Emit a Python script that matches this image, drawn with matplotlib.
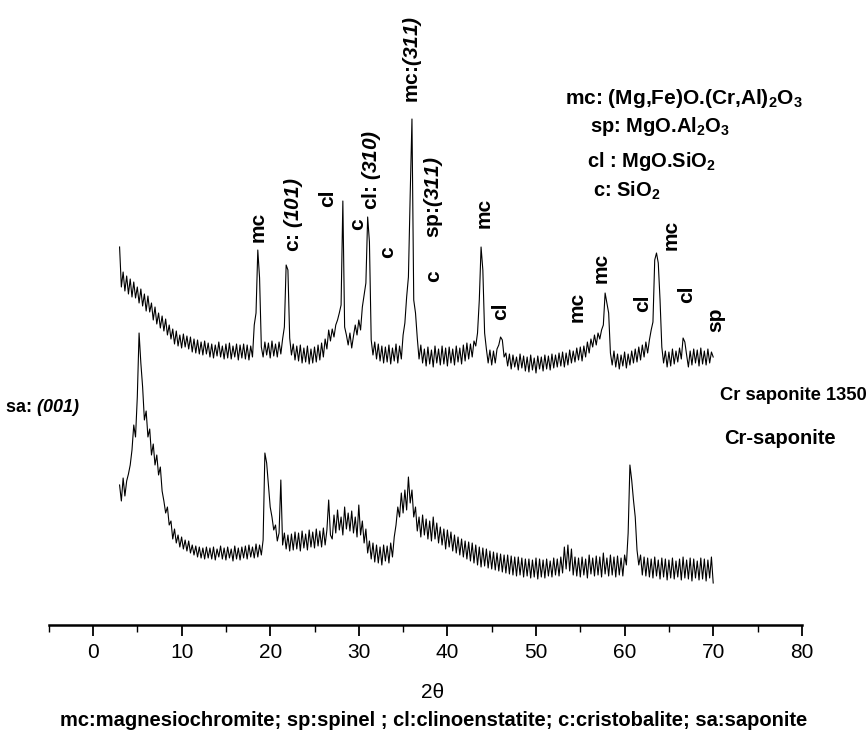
import numpy as np
import matplotlib
matplotlib.use("Agg")
import matplotlib.pyplot as plt

# XRD data, 2theta from 3 to 70 deg in 0.2 deg steps
two_theta = np.linspace(3.0, 70.0, 336)

cr_sap_1350 = [
    378, 338, 353, 334, 349, 331, 346, 328, 343, 327,
    338, 322, 336, 319, 331, 314, 329, 313, 322, 305,
    318, 301, 312, 297, 309, 294, 306, 290, 300, 286,
    296, 281, 294, 279, 290, 277, 291, 278, 289, 276,
    288, 273, 286, 272, 285, 271, 283, 270, 284, 271,
    282, 268, 281, 267, 280, 269, 283, 268, 279, 266,
    281, 267, 282, 266, 279, 268, 281, 265, 280, 267,
    281, 266, 280, 265, 279, 268, 300, 312, 375, 347,
    278, 268, 283, 270, 282, 267, 284, 269, 281, 268,
    283, 271, 286, 298, 360, 355, 287, 270, 281, 265,
    279, 264, 280, 262, 277, 263, 279, 261, 276, 262,
    278, 263, 280, 265, 282, 268, 286, 276, 295, 284,
    296, 288, 300, 305, 312, 320, 424, 298, 290, 280,
    292, 277, 289, 300, 290, 305, 295, 318, 330, 342,
    408, 383, 285, 270, 283, 266, 281, 264, 279, 262,
    278, 263, 280, 261, 277, 264, 281, 262, 279, 266,
    290, 302, 328, 348, 430, 506, 325, 312, 287, 266,
    280, 262, 276, 259, 278, 261, 275, 258, 279, 262,
    276, 260, 279, 261, 277, 259, 278, 262, 276, 260,
    279, 263, 277, 261, 280, 264, 282, 266, 281, 268,
    284, 279, 292, 325, 378, 355, 292, 276, 262, 275,
    260, 274, 262, 276, 280, 288, 285, 268, 272, 259,
    271, 256, 270, 258, 268, 255, 271, 257, 269, 254,
    268, 253, 270, 255, 267, 252, 269, 256, 268, 254,
    270, 256, 269, 255, 271, 257, 270, 258, 272, 259,
    273, 258, 272, 260, 275, 262, 274, 263, 277, 265,
    278, 264, 279, 268, 283, 272, 286, 278, 290, 280,
    292, 286, 295, 300, 332, 322, 312, 272, 260, 274,
    258, 271, 256, 270, 259, 273, 257, 271, 260, 274,
    262, 276, 263, 278, 265, 280, 268, 283, 272, 285,
    295, 303, 365, 372, 362, 325, 278, 262, 274, 258,
    273, 259, 276, 261, 274, 263, 277, 266, 287, 283,
    270, 258, 274, 260, 276, 262, 275, 259, 277, 261,
    274, 260, 276, 262, 273, 268,
]

cr_saponite = [
    140, 124, 147, 129, 144, 151, 160, 175, 200, 188,
    228, 292, 262, 238, 205, 214, 188, 196, 170, 181,
    160, 170, 150, 158, 134, 124, 112, 118, 100, 104,
    86, 96, 82, 90, 78, 88, 76, 85, 74, 84,
    72, 80, 70, 79, 68, 78, 67, 77, 66, 78,
    67, 77, 66, 78, 65, 76, 68, 79, 66, 77,
    65, 78, 67, 76, 64, 79, 66, 77, 65, 78,
    67, 79, 66, 80, 68, 78, 67, 81, 68, 80,
    70, 85, 172, 162, 140, 118, 108, 95, 100, 84,
    92, 145, 80, 92, 76, 90, 74, 91, 75, 93,
    76, 92, 74, 94, 77, 91, 75, 95, 78, 93,
    77, 96, 79, 94, 78, 97, 80, 95, 125, 90,
    86, 110, 92, 115, 95, 108, 90, 118, 96, 112,
    94, 114, 92, 108, 88, 120, 90, 104, 82, 96,
    72, 84, 66, 82, 63, 80, 62, 78, 60, 80,
    64, 79, 62, 82, 68, 88, 100, 118, 108, 132,
    112, 135, 115, 148, 122, 135, 108, 118, 94, 108,
    88, 110, 90, 106, 86, 104, 84, 108, 86, 102,
    82, 98, 80, 96, 76, 95, 78, 93, 74, 90,
    72, 88, 70, 86, 68, 84, 66, 83, 64, 82,
    62, 80, 60, 78, 58, 77, 59, 76, 57, 74,
    56, 73, 55, 72, 54, 71, 53, 70, 52, 70,
    51, 69, 50, 68, 49, 68, 50, 67, 48, 66,
    49, 66, 47, 65, 48, 67, 46, 66, 48, 65,
    47, 66, 49, 64, 48, 67, 50, 66, 49, 68,
    52, 78, 56, 80, 54, 76, 50, 68, 49, 67,
    48, 68, 50, 66, 47, 70, 51, 67, 49, 69,
    50, 68, 48, 72, 51, 67, 49, 70, 50, 68,
    48, 69, 50, 67, 49, 70, 60, 92, 160, 145,
    125, 108, 75, 60, 70, 50, 68, 49, 67, 48,
    66, 47, 68, 49, 65, 46, 67, 48, 66, 45,
    65, 47, 67, 46, 64, 48, 66, 45, 68, 47,
    65, 46, 67, 44, 66, 47, 64, 45, 67, 46,
    66, 44, 65, 47, 68, 42,
]

# phase labels over the peaks: (text, 2theta, height)
# \mathsf is mapped to bold italic below, used for the (hkl) parts
peak_labels = [
    ("mc", 18.6, 383), (r"c: $\mathsf{(101)}$", 22.6, 373), ("cl", 26.5, 418),
    ("c", 29.9, 395), (r"cl: $\mathsf{(310)}$", 31.4, 415), ("c", 33.2, 367),
    (r"mc:$\mathsf{(311)}$", 36.1, 522), (r"sp:$\mathsf{(311)}$", 38.4, 387),
    ("c", 38.5, 343), ("mc", 44.2, 397), ("cl", 46.0, 305), ("mc", 54.6, 303),
    ("mc", 57.4, 342), ("cl", 62.0, 313), ("mc", 65.3, 375),
    ("cl", 67.0, 322), ("sp", 70.3, 293),
]

phase_key = [
    ("mc: (Mg,Fe)O.(Cr,Al)$_2$O$_3$", 53.3, 521, 15),
    ("sp: MgO.Al$_2$O$_3$", 56.1, 493, 14.5),
    ("cl : MgO.SiO$_2$", 55.8, 458, 14.5),
    ("c: SiO$_2$", 56.4, 428, 14.5),
]

caption = ("mc:magnesiochromite; sp:spinel ; cl:clinoenstatite; "
           "c:cristobalite; sa:saponite")

plt.rcParams['font.family'] = ['Liberation Sans', 'DejaVu Sans']
plt.rcParams['mathtext.fontset'] = 'custom'
plt.rcParams['mathtext.rm'] = 'Liberation Sans:bold'
plt.rcParams['mathtext.bf'] = 'Liberation Sans:bold'
plt.rcParams['mathtext.it'] = 'Liberation Sans:bold:italic'
plt.rcParams['mathtext.sf'] = 'Liberation Sans:bold:italic'

fig = plt.figure(figsize=(8.68, 7.40), dpi=100)
ax = fig.add_axes([48.7 / 868, 115 / 740, 753.1 / 868, 625 / 740])

ax.plot(two_theta, cr_sap_1350, color='black', lw=0.8)
ax.plot(two_theta, cr_saponite, color='black', lw=0.8)

ax.set_xlim(-5, 80)
ax.set_ylim(0, 625)
for s in ['left', 'right', 'top']:
    ax.spines[s].set_visible(False)
ax.spines['bottom'].set_linewidth(1.8)
ax.set_yticks([])
ax.set_xticks(np.arange(0, 81, 10))
ax.set_xticks(np.arange(-5, 81, 5), minor=True)
ax.tick_params(axis='x', which='major', length=8, width=1.3, labelsize=15, pad=5)
ax.tick_params(axis='x', which='minor', length=5, width=1.0)

for txt, x, y in peak_labels:
    ax.text(x, y, txt, rotation=90, ha='center', va='bottom',
            fontsize=15, fontweight='bold')

for txt, x, y, fs in phase_key:
    ax.text(x, y, txt, ha='left', va='baseline', fontsize=fs,
            fontweight='bold')

ax.text(70.8, 229, "Cr saponite 1350", ha='left', va='center', fontsize=13.2,
        fontweight='bold')
ax.text(71.2, 187, "Cr-saponite", ha='left', va='center', fontsize=14.5,
        fontweight='bold')
ax.text(-9.9, 218, r"sa: $\mathsf{(001)}$", ha='left', va='center', fontsize=13,
        fontweight='bold')

fig.text(433 / 868, 1 - 693 / 740, "2θ", ha='center', va='center', fontsize=15)
fig.text(434 / 868, 1 - 720 / 740, caption, ha='center', va='center',
         fontsize=14.5, fontweight='bold')

fig.savefig("out.png", dpi=100)
